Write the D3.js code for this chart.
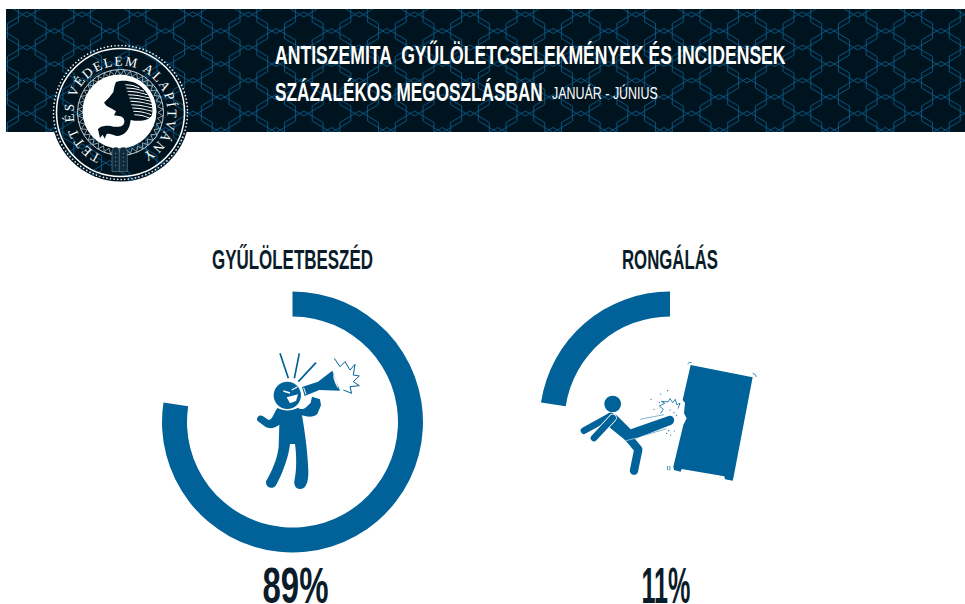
<!DOCTYPE html>
<html>
<head>
<meta charset="utf-8">
<script src="https://cdnjs.cloudflare.com/ajax/libs/d3/7.8.5/d3.min.js"></script>
<style>
  html, body { margin: 0; padding: 0; background: #fff; }
  svg { display: block; }
  text { font-family: "Liberation Sans Narrow", "Liberation Sans", sans-serif; font-weight: 700; }
</style>
</head>
<body>
<svg id="chart"></svg>
<script>
// Values as printed and the arc lengths as they were actually drawn (the arcs do not follow the labels)
const categories = ['GYŰLÖLETBESZÉD', 'RONGÁLÁS'];
const printedPercent = [89, 11];
const drawnPercent = [77.4, 22.6];
const titleLines = ['ANTISZEMITA  GYŰLÖLETCSELEKMÉNYEK ÉS INCIDENSEK', 'SZÁZALÉKOS MEGOSZLÁSBAN'];
const period = 'JANUÁR - JÚNIUS';
const sealText = 'TETT ÉS VÉDELEM ALAPÍTVÁNY';

const width = 965, height = 604;
const dark = '#00141f', blue = '#006298', ink = '#0a1c29';

const svg = d3.select('#chart').attr('width', width).attr('height', height);
const defs = svg.append('defs');

// Overlapping hexagon lattice for the banner texture
const tileW = 55.4, tileH = 33;
const hexLine = d3.line();
const hex = (cx, cy) => hexLine([
  [cx, cy - 19], [cx + 19.35, cy - 7.5], [cx + 19.35, cy + 7.5],
  [cx, cy + 19], [cx - 19.35, cy + 7.5], [cx - 19.35, cy - 7.5]
]) + 'Z';
const hexCentres = d3.cross(d3.range(-1, 3), d3.range(-1, 3)).flatMap(d => [
  [d[0] * tileW, d[1] * tileH],
  [d[0] * tileW + tileW / 2, d[1] * tileH + tileH / 2]
]);
const tile = defs.append('pattern')
  .attr('id', 'hexes')
  .attr('patternUnits', 'userSpaceOnUse')
  .attr('width', tileW)
  .attr('height', tileH)
  .attr('patternTransform', 'translate(26.8,31)');
tile.append('path')
  .attr('d', hexCentres.map(d => hex(d[0], d[1])).join(''))
  .attr('fill', 'none')
  .attr('stroke', '#0b5a88')
  .attr('stroke-width', 0.9)
  .attr('stroke-linejoin', 'round');

// Banner
svg.append('rect').attr('x', 6).attr('y', 9).attr('width', width - 6).attr('height', 123).attr('fill', dark);
svg.append('rect').attr('x', 6).attr('y', 9).attr('width', width - 6).attr('height', 123).attr('fill', 'url(#hexes)');

// Seal
const seal = svg.append('g').attr('transform', 'translate(120.5,112.5)');
const sealBack = svg.insert('g', 'g').attr('id', 'sealBack');
sealBack.append('circle').attr('cx', 120.5).attr('cy', 112.5).attr('r', 69).attr('fill', dark);
sealBack.append('circle').attr('cx', 120.5).attr('cy', 112.5).attr('r', 69).attr('fill', 'url(#hexes)');
seal.append('circle').attr('r', 67).attr('fill', 'none').attr('stroke', '#e8eef2')
  .attr('stroke-width', 1.7).attr('stroke-linecap', 'round').attr('stroke-dasharray', '0 3.6');
seal.append('circle').attr('r', 64).attr('fill', 'none').attr('stroke', '#fff').attr('stroke-width', 1.5);
seal.append('circle').attr('r', 43).attr('fill', 'none').attr('stroke', '#dfe6ea').attr('stroke-width', 0.9);
const zig = d3.range(0, 81).map(i => {
  const a = i / 80 * 2 * Math.PI, r = i % 2 ? 42.5 : 37.5;
  return [r * Math.sin(a), -r * Math.cos(a)];
});
seal.append('path').attr('d', d3.line()(zig)).attr('fill', 'none').attr('stroke', '#cfd8dd').attr('stroke-width', 0.7);
seal.append('circle').attr('r', 37).attr('fill', '#fff').attr('cx', -1).attr('cy', -1);

defs.append('path').attr('id', 'sealArc')
  .attr('d', d3.arc()({ innerRadius: 47, outerRadius: 47, startAngle: -2.72, endAngle: 2.72 }).split('L')[0]);
seal.append('text')
  .attr('fill', '#fff')
  .style('font-family', '"Liberation Serif", serif')
  .style('font-weight', 400)
  .style('font-size', '13.5px')
  .append('textPath')
  .attr('href', '#sealArc')
  .attr('textLength', 252)
  .text(sealText);

// Lion, outlined in 3x crop coordinates
const lionG = svg.append('g').attr('transform', 'translate(90,70) scale(0.3333)');
lionG.append('path')
  .attr('d', 'M78,36 C100,28 135,32 155,52 C178,72 192,105 186,135 C178,152 150,156 122,150 C120,178 104,198 80,198 C68,196 60,190 50,192 L44,206 L38,194 L30,204 L24,178 C30,168 48,166 62,168 C76,172 92,172 100,164 C108,152 100,138 86,138 L72,136 L78,124 L66,116 L50,108 L42,98 L58,82 L70,66 C72,54 74,44 78,36 Z')
  .attr('fill', dark);
const stripeY = [44, 54, 64, 74, 84, 94, 104, 114, 124, 134];
const stripeEnd = [148, 162, 172, 179, 184, 187, 188, 187, 184, 178];
stripeY.forEach((y, i) => {
  lionG.append('path')
    .attr('d', `M${106 + i * 3},${y} Q${130 + i * 3},${y} ${stripeEnd[i]},${y + 10}`)
    .attr('fill', 'none').attr('stroke', '#fff').attr('stroke-width', 3.2);
});

// Tablets at the foot of the seal
const sealArt = svg.append('g').attr('transform', 'translate(40,40) scale(0.3333)');
sealArt.append('path')
  .attr('d', 'M216,395 V335 Q216,322 228,322 Q238,322 238,335 Q238,322 250,322 Q262,322 262,335 V395 Z M238,335 V395')
  .attr('fill', '#0d2b3c').attr('stroke', '#7f919c').attr('stroke-width', 1.6);
[[227, 340], [227, 352], [227, 364], [227, 376], [250, 340], [250, 352], [250, 364], [250, 376]].forEach(p => {
  sealArt.append('circle').attr('cx', p[0]).attr('cy', p[1]).attr('r', 1.6).attr('fill', '#9fb0ba');
});

// Text squeezed horizontally to the measured width of the condensed original
const fitted = (x, y, size, len, txt, fill, weight, anchor) => {
  const t = svg.append('text')
    .attr('fill', fill)
    .attr('text-anchor', anchor || 'start')
    .style('font-size', size + 'px')
    .style('font-weight', weight || 700)
    .style('white-space', 'pre')
    .text(txt);
  const k = len / t.node().getComputedTextLength();
  t.attr('transform', `translate(${x},${y}) scale(${k},1)`);
  return t;
};
fitted(275, 64, 25, 511, titleLines[0], '#fff');
fitted(275, 101, 25, 268, titleLines[1], '#fff');
fitted(552, 98.5, 17, 106, period, '#fff', 400);

// Rings: one scale for the angle, ordinal scales for placement
const angle = d3.scaleLinear().domain([0, 100]).range([0, 2 * Math.PI]);
const ringX = d3.scaleOrdinal().domain(categories).range([292.5, 670]);
const valueX = d3.scaleOrdinal().domain(categories).range([295.5, 666]);
const ringY = 422;
const labelW = d3.scaleOrdinal().domain(categories).range([161, 96]);
const valueW = d3.scaleOrdinal().domain(categories).range([66, 49]);
const ringArc = d3.arc().innerRadius(105.5).outerRadius(130.5);

const rings = svg.selectAll('.ring')
  .data(categories.map((name, i) => ({
    name,
    printed: printedPercent[i],
    startAngle: i === 0 ? 0 : -angle(drawnPercent[i]),
    endAngle: i === 0 ? angle(drawnPercent[i]) : 0
  })))
  .join('g')
  .attr('class', 'ring');

rings.append('path')
  .attr('transform', d => `translate(${ringX(d.name)},${ringY})`)
  .attr('d', ringArc)
  .attr('fill', blue);

rings.each(function (d) {
  fitted(ringX(d.name), 269, 28, labelW(d.name), d.name, ink, 700, 'middle');
  fitted(valueX(d.name), 602.5, 50, valueW(d.name), d.printed + '%', ink, 700, 'middle');
});

// Pictogram: person with megaphone, in 3x crop coordinates
const shout = svg.append('g').attr('transform', 'translate(240,340) scale(0.3333)');
shout.append('circle').attr('cx', 142).attr('cy', 166).attr('r', 41).attr('fill', blue);
shout.append('path')
  .attr('d', 'M112,204 C132,214 155,214 174,203 C182,210 192,208 200,200 L212,188 L216,170 L240,178 L243,196 L232,222 C222,232 204,232 186,226 C192,262 202,320 205,392 C206,420 200,446 182,447 C166,448 160,434 164,418 C170,390 170,345 165,312 L150,312 C146,350 130,395 108,436 C98,450 76,444 78,424 C92,400 112,360 116,320 L118,254 C108,262 92,268 78,262 L52,242 C48,232 58,222 68,228 L86,240 C98,238 100,222 112,204 Z')
  .attr('fill', blue);
shout.append('path').attr('d', 'M140,172 L174,163 L168,183 L150,190 Z').attr('fill', '#fff');
shout.append('path').attr('d', 'M130,153 L150,159 M155,150 L172,141').attr('stroke', '#fff').attr('stroke-width', 4).attr('fill', 'none');
shout.append('path').attr('d', 'M186,141 L234,125 L277,92 L300,152 L238,150 L194,168 Z').attr('fill', blue);
shout.append('path').attr('d', 'M191,143 L198,163').attr('stroke', '#fff').attr('stroke-width', 3);
shout.append('path').attr('d', 'M279,102 C288,116 293,132 295,147 C288,136 280,120 279,102 Z').attr('fill', '#fff');
shout.append('path').attr('d', 'M120,40 L145,115 M178,40 L163,115 M228,68 L175,125').attr('stroke', blue).attr('stroke-width', 5).attr('fill', 'none');
shout.append('path')
  .attr('d', 'M283,55 L300,80 L315,65 L330,90 L345,73 L340,105 L358,108 L340,125 L358,137 L330,140 L335,160 L310,150')
  .attr('stroke', blue).attr('stroke-width', 3).attr('fill', 'none');

// Pictogram: figure kicking a cabinet, in 3x crop coordinates
const kick = svg.append('g').attr('transform', 'translate(570,350) scale(0.3333)');
kick.append('path')
  .attr('d', 'M362,45 L548,82 L490,385 L488,392 L465,388 L463,379 L335,357 L332,365 L312,360 L310,350 L340,225 L350,205 L342,190 L345,158 L338,150 Z')
  .attr('fill', blue);
kick.append('circle').attr('cx', 128).attr('cy', 162).attr('r', 25).attr('fill', blue);
kick.append('path').attr('d', 'M42,242 L122,198').attr('stroke', blue).attr('stroke-width', 20).attr('stroke-linecap', 'round');
kick.append('path').attr('d', 'M175,262 L205,298 L192,362').attr('stroke', blue).attr('stroke-width', 25).attr('stroke-linecap', 'round').attr('stroke-linejoin', 'round').attr('fill', 'none');
kick.append('path')
  .attr('d', 'M112,192 C124,186 136,192 142,198 L182,238 L298,197 C314,196 318,216 304,224 L196,266 L168,272 L118,232 Z')
  .attr('fill', blue);
kick.append('path').attr('d', 'M72,264 L128,204').attr('stroke', '#fff').attr('stroke-width', 25).attr('stroke-linecap', 'round');
kick.append('path').attr('d', 'M72,264 L128,204').attr('stroke', blue).attr('stroke-width', 20).attr('stroke-linecap', 'round');
kick.append('path').attr('d', 'M210,208 L282,194 M224,256 L290,236').attr('stroke', '#6ea4c4').attr('stroke-width', 2.5);
kick.append('path').attr('d', 'M168,272 L200,264').attr('stroke', '#fff').attr('stroke-width', 1.6);
kick.append('path')
  .attr('d', 'M272,190 L280,178 L268,168 L284,160 L274,154 L294,156 L300,146 L308,158 L316,148 L320,164 L330,160 L324,176')
  .attr('stroke', blue).attr('stroke-width', 2.4).attr('fill', 'none');
[[333, 200, 5], [322, 212, 4], [342, 198, 3.5], [330, 186, 3]].forEach(p => {
  kick.append('circle').attr('cx', p[0]).attr('cy', p[1]).attr('r', p[2]).attr('fill', '#fff');
});
[[243, 148], [272, 132], [293, 122], [252, 178], [268, 157], [290, 250], [302, 255], [313, 243], [296, 242], [312, 188], [320, 196], [300, 180]].forEach(p => {
  kick.append('circle').attr('cx', p[0]).attr('cy', p[1]).attr('r', 1.8).attr('fill', blue);
});
kick.append('path').attr('d', 'M353,42 Q357,34 365,38 M548,70 Q558,72 559,81 M293,348 Q291,354 294,361 M299,348 Q301,354 299,361')
  .attr('stroke', blue).attr('stroke-width', 2.2).attr('fill', 'none');
</script>
</body>
</html>
